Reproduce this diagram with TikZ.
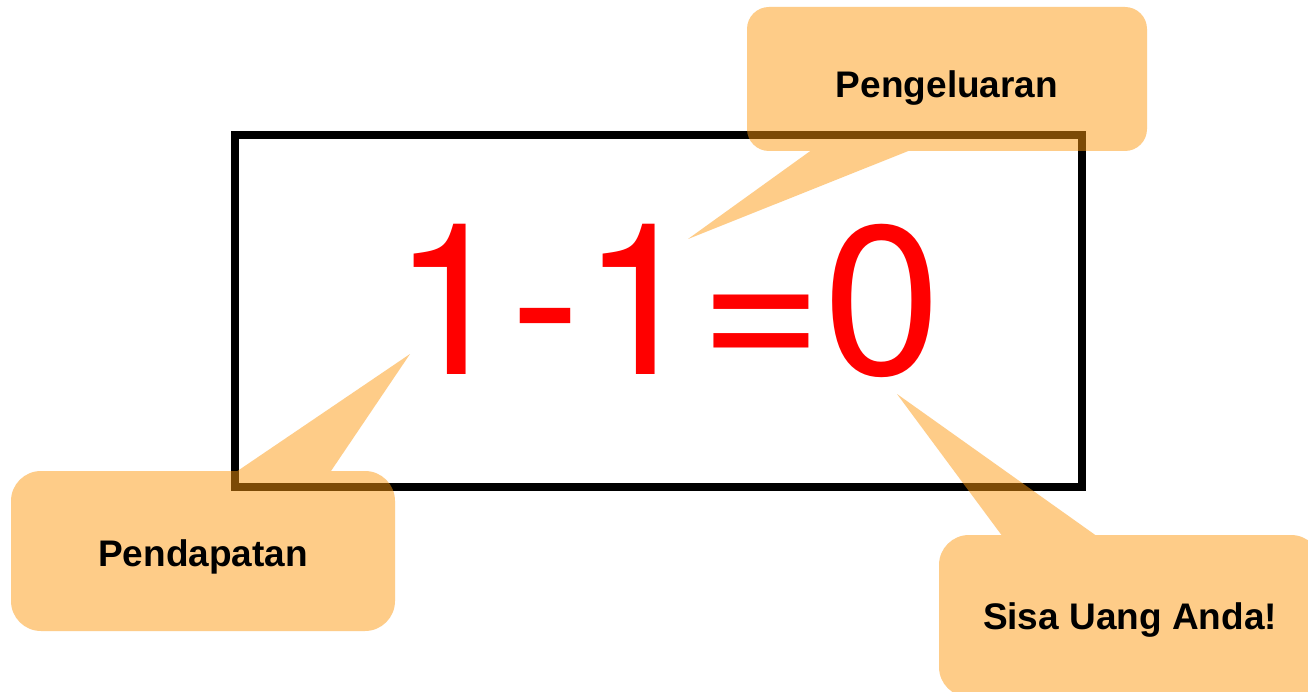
\documentclass[tikz,border=0pt]{standalone}
\usepackage{fontspec}
\setmainfont{Liberation Sans}
\newfontfamily\eqfont{TeX Gyre Heros}
\definecolor{callout}{RGB}{254,152,14}
\definecolor{bigred}{RGB}{255,0,0}
\begin{document}
\begin{tikzpicture}[x=1pt,y=-1pt,
  framebox/.style={draw=black, line width=8pt, inner sep=0pt},
  bubble/.style={fill=callout, inner sep=0pt},
  lbl/.style={font=\fontsize{37}{44}\selectfont\bfseries, inner sep=0pt, anchor=base},
  bigtext/.style={font=\eqfont\fontsize{212}{240}\selectfont, text=bigred, inner sep=0pt, anchor=base}
]
\useasboundingbox (0,0) rectangle (1308,692);
\fill[white] (0,0) rectangle (1308,692);

% main frame
\node[framebox, minimum width=847pt, minimum height=352pt] (frame) at (658.5,311) {};

% equation
\node[bigtext] (eq) at (667,374.5) {1-1=0};

% callout: Pengeluaran
\begin{scope}[transparency group, opacity=0.49]
  \node[bubble, rounded corners=22pt, minimum width=400pt, minimum height=144pt] (out) at (947,79) {};
  \coordinate (outtip) at (688,239);
  \fill[callout] ([xshift=66pt,yshift=2pt]out.south west) -- (outtip) -- ([xshift=166pt,yshift=2pt]out.south west) -- cycle;
\end{scope}
\node[lbl] (outlbl) at ([yshift=-19pt]out.center) {Pengeluaran};

% callout: Pendapatan
\begin{scope}[transparency group, opacity=0.49]
  \node[bubble, rounded corners=30pt, minimum width=384pt, minimum height=160pt] (in) at (203,551) {};
  \coordinate (intip) at (410,354);
  \fill[callout] ([xshift=224pt,yshift=-2pt]in.north west) -- (intip) -- ([xshift=319pt,yshift=-2pt]in.north west) -- cycle;
\end{scope}
\node[lbl] (inlbl) at ([yshift=-15pt]in.center) {Pendapatan};

% callout: Sisa Uang Anda!
\begin{scope}[transparency group, opacity=0.49]
  \node[bubble, rounded corners=30pt, minimum width=382pt, minimum height=162pt] (rest) at (1130,616) {};
  \coordinate (resttip) at (897,394);
  \fill[callout] ([xshift=64pt,yshift=-2pt]rest.north west) -- (resttip) -- ([xshift=159pt,yshift=-2pt]rest.north west) -- cycle;
\end{scope}
\node[lbl] (restlbl) at ([yshift=-13pt]rest.center) {Sisa Uang Anda!};
\end{tikzpicture}
\end{document}
